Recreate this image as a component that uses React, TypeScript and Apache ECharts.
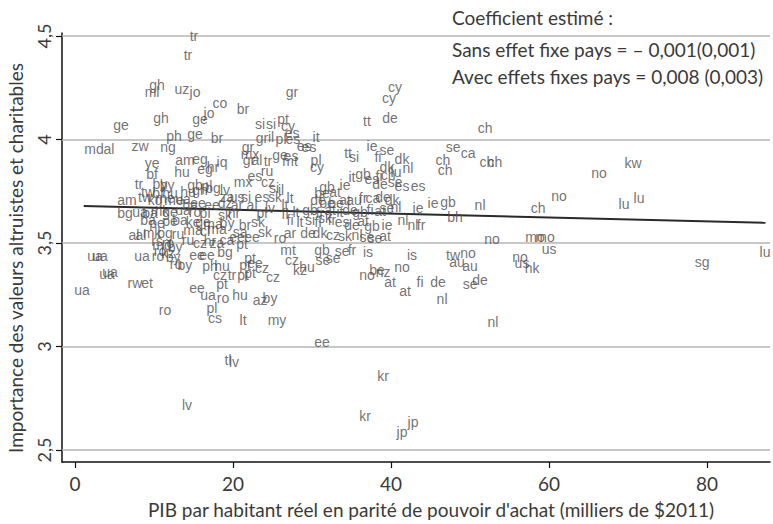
import React, { useEffect, useRef } from "react";
import * as echarts from "echarts";

type Pt = [string, number, number];

// [country code, GDP per capita (k$2011), altruistic values score]
const topPoints: Pt[] = [
  ["tr", 15.06, 4.5], ["tr", 14.3, 4.408], ["gh", 10.38, 4.263], ["ml", 9.75, 4.229],
  ["uz", 13.54, 4.244], ["jo", 15.19, 4.229], ["co", 18.35, 4.176], ["gr", 27.47, 4.229],
  ["cy", 40.51, 4.254], ["cy", 39.75, 4.2], ["br", 21.27, 4.147], ["jo", 16.96, 4.128],
  ["de", 39.87, 4.104], ["tt", 36.96, 4.089], ["ge", 15.82, 4.099], ["gh", 10.89, 4.104],
  ["ge", 5.82, 4.07], ["si", 23.42, 4.075], ["si", 24.81, 4.075], ["pt", 26.33, 4.099],
  ["cy", 26.96, 4.065], ["es", 27.47, 4.031], ["ch", 51.9, 4.056], ["ph", 12.53, 4.017],
  ["ge", 15.19, 4.027], ["br", 17.97, 4.007], ["gr", 23.67, 4.007], ["il", 24.81, 4.012],
  ["pl", 26.08, 4.002], ["es", 27.59, 4.002], ["it", 30.51, 4.012], ["es", 28.99, 3.969],
  ["es", 29.62, 3.964], ["md", 2.4, 3.954], ["al", 4.3, 3.954], ["zw", 8.23, 3.969],
  ["ng", 11.77, 3.964], ["gr", 21.9, 3.964], ["ie", 37.59, 3.969], ["se", 39.49, 3.949],
  ["se", 47.85, 3.964],
];

const upperMidPoints: Pt[] = [
  ["am", 13.92, 3.901], ["eg", 15.82, 3.906], ["ye", 9.75, 3.886], ["mx", 22.15, 3.93],
  ["ge", 25.95, 3.925], ["es", 27.34, 3.92], ["tt", 34.56, 3.935], ["si", 35.32, 3.915],
  ["fi", 38.35, 3.915], ["ca", 49.75, 3.935], ["hr", 17.47, 3.867], ["iq", 18.61, 3.891],
  ["gr", 22.03, 3.901], ["al", 23.04, 3.901], ["tr", 24.43, 3.896], ["mt", 27.22, 3.896],
  ["pl", 30.51, 3.901], ["dk", 41.39, 3.906], ["ch", 46.58, 3.901], ["ch", 52.15, 3.891],
  ["ch", 53.16, 3.891], ["kw", 70.63, 3.886], ["hu", 13.54, 3.843], ["bf", 9.75, 3.833],
  ["eg", 16.46, 3.857], ["ru", 24.3, 3.848], ["cy", 30.63, 3.867], ["dk", 39.49, 3.867],
  ["nl", 42.15, 3.862], ["ch", 46.84, 3.853], ["no", 66.33, 3.838], ["ch", 39.62, 3.829],
  ["lu", 40.63, 3.843], ["it", 35.06, 3.819], ["gb", 36.46, 3.833], ["es", 37.59, 3.809],
  ["fi", 38.48, 3.824], ["mx", 21.27, 3.795], ["cz", 24.43, 3.795], ["es", 22.78, 3.824],
  ["tr", 8.1, 3.785], ["by", 10.76, 3.785], ["by", 11.65, 3.78], ["gb", 15.19, 3.78],
  ["pl", 16.71, 3.775], ["gb", 31.9, 3.771], ["es", 41.39, 3.775], ["es", 43.42, 3.775],
  ["de", 38.61, 3.785], ["se", 40.51, 3.795], ["ie", 34.18, 3.78], ["tw", 9.24, 3.746],
  ["bf", 10.51, 3.742], ["hu", 12.03, 3.742], ["hu", 14.3, 3.746], ["gh", 15.82, 3.756],
  ["bg", 17.47, 3.766], ["lv", 18.99, 3.756], ["si", 25.19, 3.766], ["il", 26.08, 3.756],
  ["be", 31.27, 3.742], ["at", 32.91, 3.746],
];

const middlePoints: Pt[] = [
  ["am", 6.58, 3.708], ["tw", 8.86, 3.722], ["kg", 10.13, 3.708], ["me", 11.39, 3.717],
  ["me", 12.53, 3.708], ["ua", 13.67, 3.713], ["za", 19.24, 3.722], ["us", 20.51, 3.722],
  ["si", 21.65, 3.722], ["es", 23.67, 3.722], ["sk", 25.32, 3.722], ["lt", 27.22, 3.717],
  ["be", 31.9, 3.693], ["be", 33.04, 3.693], ["de", 30.76, 3.708], ["at", 34.18, 3.708],
  ["au", 35.32, 3.708], ["fr", 36.46, 3.717], ["ca", 37.72, 3.717], ["de", 38.99, 3.722],
  ["dk", 40.13, 3.708], ["ie", 43.42, 3.669], ["ie", 45.32, 3.693], ["gb", 47.22, 3.698],
  ["se", 39.49, 3.669], ["nl", 51.27, 3.684], ["ch", 58.61, 3.669], ["no", 61.27, 3.727],
  ["lu", 71.39, 3.717], ["lu", 69.49, 3.688], ["ee", 15.57, 3.693], ["ee", 17.34, 3.684],
  ["dz", 18.99, 3.693], ["ar", 20.51, 3.684], ["al", 22.41, 3.684], ["lv", 24.68, 3.669],
  ["lt", 26.58, 3.684], ["ba", 14.56, 3.684], ["bg", 6.33, 3.645], ["ua", 8.23, 3.65],
  ["ba", 9.49, 3.645], ["mk", 10.76, 3.655], ["ge", 12.03, 3.65], ["ua", 13.67, 3.659],
  ["ro", 15.19, 3.65], ["pl", 16.46, 3.645], ["sk", 18.99, 3.635], ["hr", 20.13, 3.645],
  ["pl", 23.67, 3.645], ["fi", 26.58, 3.64], ["lt", 27.97, 3.65], ["gb", 29.75, 3.659],
  ["fr", 31.01, 3.645], ["at", 32.28, 3.659], ["it", 33.54, 3.65], ["de", 34.81, 3.659],
  ["gb", 36.08, 3.65], ["fi", 37.34, 3.659], ["at", 38.61, 3.655], ["nl", 40.63, 3.674],
  ["ba", 9.24, 3.611], ["pe", 10.38, 3.597], ["pe", 12.03, 3.606], ["ba", 13.29, 3.611],
  ["ke", 14.94, 3.601], ["ge", 16.2, 3.601], ["ma", 17.47, 3.592], ["by", 19.24, 3.597],
  ["br", 21.52, 3.587], ["sk", 23.16, 3.601], ["fi", 27.22, 3.611], ["lt", 28.48, 3.601],
  ["si", 29.75, 3.611], ["fi", 30.76, 3.601], ["sk", 31.65, 3.621], ["fr", 32.53, 3.611],
  ["es", 33.8, 3.601], ["de", 35.06, 3.587], ["at", 36.46, 3.606], ["gb", 37.59, 3.582],
  ["ie", 39.49, 3.587], ["nl", 41.52, 3.611], ["nl", 42.78, 3.587], ["fr", 43.8, 3.587],
  ["bh", 48.1, 3.626],
];

const lowerMidPoints: Pt[] = [
  ["ma", 14.94, 3.563], ["cl", 16.46, 3.558], ["ma", 17.97, 3.568], ["sa", 20.89, 3.553],
  ["al", 7.47, 3.539], ["al", 8.35, 3.539], ["mk", 9.75, 3.548], ["bg", 11.39, 3.548],
  ["ru", 13.04, 3.543], ["sk", 24.05, 3.553], ["ar", 27.22, 3.548], ["ro", 25.95, 3.524],
  ["ee", 20.51, 3.529], ["ee", 22.41, 3.529], ["de", 29.49, 3.548], ["dk", 31.01, 3.548],
  ["cz", 32.66, 3.539], ["sk", 34.18, 3.534], ["nl", 35.7, 3.539], ["se", 36.96, 3.529],
  ["se", 37.97, 3.524], ["at", 39.24, 3.534], ["no", 52.78, 3.519], ["mo", 58.23, 3.529],
  ["mo", 59.49, 3.529], ["ru", 14.3, 3.514], ["cz", 15.82, 3.5], ["hr", 17.09, 3.51],
  ["za", 17.97, 3.5], ["ca", 19.24, 3.514], ["pt", 21.14, 3.495], ["rs", 10.38, 3.51],
  ["md", 11.01, 3.49], ["ro", 11.77, 3.5], ["by", 12.66, 3.481], ["ro", 10.76, 3.461],
  ["kz", 11.77, 3.452], ["ro", 10.51, 3.437], ["by", 12.41, 3.432], ["ru", 12.78, 3.399],
  ["by", 13.92, 3.394], ["mt", 26.96, 3.466], ["bg", 18.99, 3.457], ["ee", 15.44, 3.442],
  ["ee", 16.71, 3.442], ["pt", 22.15, 3.428], ["cz", 27.47, 3.418], ["gb", 31.27, 3.466],
  ["se", 31.39, 3.418], ["se", 32.66, 3.428], ["se", 33.8, 3.461], ["fr", 35.06, 3.466],
  ["is", 37.09, 3.457], ["is", 42.66, 3.442], ["tw", 47.85, 3.442], ["no", 49.75, 3.452],
  ["us", 60.0, 3.471], ["lu", 87.34, 3.457], ["no", 56.33, 3.432], ["us", 56.58, 3.403],
  ["hk", 57.85, 3.379], ["sg", 79.37, 3.408], ["au", 48.35, 3.408], ["au", 50.0, 3.389],
  ["ua", 2.53, 3.437], ["ua", 3.16, 3.437], ["ua", 8.48, 3.437], ["kz", 28.48, 3.37],
  ["hu", 29.37, 3.384], ["ph", 17.09, 3.389], ["hu", 18.61, 3.389], ["pt", 21.52, 3.394],
  ["ee", 22.78, 3.403], ["cz", 23.67, 3.379], ["pt", 22.15, 3.355], ["no", 36.96, 3.345],
  ["be", 38.23, 3.37], ["nz", 38.99, 3.36], ["no", 41.39, 3.384],
];

const lowPoints: Pt[] = [
  ["ua", 4.05, 3.35], ["ua", 4.43, 3.36], ["cz", 18.35, 3.345], ["tr", 19.87, 3.345],
  ["pt", 21.27, 3.345], ["cz", 25.06, 3.336], ["rw", 7.59, 3.307], ["et", 9.11, 3.307],
  ["ua", 0.89, 3.273], ["pt", 18.61, 3.302], ["ee", 15.44, 3.283], ["ua", 16.84, 3.249],
  ["ro", 18.73, 3.234], ["hu", 20.89, 3.249], ["az", 23.42, 3.225], ["by", 24.68, 3.234],
  ["at", 39.87, 3.312], ["at", 41.77, 3.268], ["fi", 43.67, 3.312], ["de", 45.95, 3.312],
  ["se", 50.0, 3.302], ["de", 51.27, 3.321], ["nl", 46.46, 3.229], ["nl", 52.91, 3.118],
  ["ro", 11.39, 3.176], ["pl", 17.34, 3.186], ["cs", 17.72, 3.138], ["lt", 21.27, 3.128],
  ["my", 25.57, 3.128], ["ee", 31.27, 3.022], ["tl", 19.37, 2.935], ["lv", 20.13, 2.925],
  ["lv", 14.18, 2.717], ["kr", 38.99, 2.857], ["kr", 36.71, 2.664], ["jp", 42.78, 2.635],
  ["jp", 41.39, 2.587],
];

const fitLine: [number, number][] = [[1.1, 3.679], [87.4, 3.598]];
const gridValues = [2.5, 3, 3.5, 4, 4.5];
const xTicks = [0, 20, 40, 60, 80];

const annotationTitle = "Coefficient estimé :";
const annotationLines = [
  "Sans effet fixe pays = – 0,001(0,001)",
  "Avec effets fixes pays = 0,008 (0,003)",
];
const xTitle = "PIB par habitant réel en parité de pouvoir d'achat (milliers de $2011)";
const yTitle = "Importance des valeurs altruistes et charitables";

const TITLE_FONT = "Lato, 'Open Sans', sans-serif";
const TEXT_COLOR = "#3a3a3a";

export default function App() {
  const ref = useRef<HTMLDivElement>(null);
  useEffect(() => {
    if (!ref.current) return;
    const chart = echarts.init(ref.current, undefined, { renderer: "svg" });
    const all = [...topPoints, ...upperMidPoints, ...middlePoints, ...lowerMidPoints, ...lowPoints];
    const scatterData = all.map(([c, x, y]) => ({ name: c, value: [x, y] }));
    chart.setOption({
      animation: false,
      backgroundColor: "#ffffff",
      grid: { left: 62, right: 3, top: 33, bottom: 62, containLabel: false },
      xAxis: {
        type: "value",
        min: -1.646,
        max: 87.97,
        axisLine: { show: true, onZero: false, lineStyle: { color: "#111", width: 1.5 } },
        axisTick: { show: true, customValues: xTicks, length: 6, lineStyle: { color: "#111", width: 1.2 } },
        axisLabel: {
          show: true, customValues: xTicks, margin: 12, fontSize: 19, color: TEXT_COLOR,
          fontFamily: TITLE_FONT,
        },
        splitLine: { show: false },
      },
      yAxis: {
        type: "value",
        min: 2.442,
        max: 4.5145,
        axisLine: { show: true, onZero: false, lineStyle: { color: "#111", width: 1.5 } },
        axisTick: { show: true, customValues: gridValues, length: 6, lineStyle: { color: "#111", width: 1.2 } },
        axisLabel: {
          show: true, customValues: gridValues, rotate: 90, margin: 9, fontSize: 18, color: TEXT_COLOR,
          fontFamily: TITLE_FONT,
          formatter: (v: number) => String(v).replace(".", ","),
        },
        splitLine: { show: false },
      },
      series: [
        {
          type: "line",
          data: fitLine,
          showSymbol: false,
          symbol: "none",
          z: 3,
          lineStyle: { color: "#2a2a2a", width: 2 },
          markLine: {
            silent: true,
            symbol: ["none", "none"],
            label: { show: false },
            lineStyle: { color: "#b4b4b4", width: 1.5, type: "solid" },
            data: gridValues.map((v) => ({ yAxis: v })),
            z: 1,
          },
        },
        {
          type: "scatter",
          data: scatterData,
          symbolSize: 1,
          itemStyle: { color: "rgba(0,0,0,0)" },
          z: 4,
          label: {
            show: true,
            position: "inside",
            formatter: "{b}",
            color: "#4e4e4e",
            fontSize: 14,
            textBorderWidth: 0,
            textBorderColor: "transparent",
            fontFamily: "'Liberation Sans', Arial, sans-serif",
          },
        },
      ],
      graphic: [
        {
          type: "text", x: 452, y: 17,
          style: { text: annotationTitle, fontSize: 19, fontFamily: TITLE_FONT, fill: TEXT_COLOR, verticalAlign: "middle" },
        },
        {
          type: "text", x: 452, y: 49,
          style: { text: annotationLines[0], fontSize: 19, fontFamily: TITLE_FONT, fill: TEXT_COLOR, verticalAlign: "middle" },
        },
        {
          type: "text", x: 452, y: 76,
          style: { text: annotationLines[1], fontSize: 19, fontFamily: TITLE_FONT, fill: TEXT_COLOR, verticalAlign: "middle" },
        },
        {
          type: "text", x: 431, y: 509,
          style: { text: xTitle, fontSize: 19, fontFamily: TITLE_FONT, fill: TEXT_COLOR, align: "center", verticalAlign: "middle" },
        },
        {
          type: "text", x: 15, y: 258, rotation: Math.PI / 2,
          style: { text: yTitle, fontSize: 19, fontFamily: TITLE_FONT, fill: TEXT_COLOR, align: "center", verticalAlign: "middle" },
        },
      ],
    });
    return () => chart.dispose();
  }, []);
  return <div ref={ref} style={{ width: 773, height: 524, position: "absolute", left: 0, top: 0 }} />;
}
